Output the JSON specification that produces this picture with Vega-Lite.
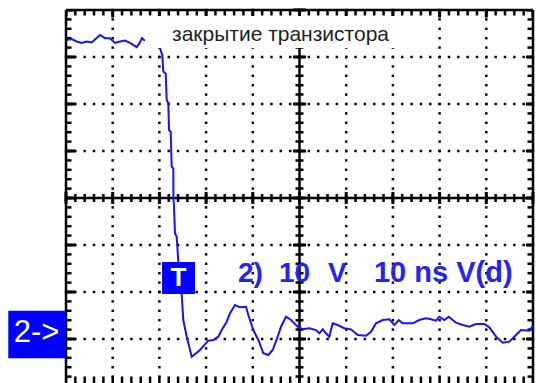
{
  "$schema": "https://vega.github.io/schema/vega-lite/v6.json",
  "width": 467,
  "height": 373,
  "padding": {"left": 66, "top": 10, "right": 3, "bottom": 0},
  "autosize": {"type": "none"},
  "background": "white",
  "config": {"view": {"stroke": null}},
  "data": {"values": [{}]},
  "datasets": {
    "hgrid": [{"v": [30, 20, 10, -10, -20, -30], "t": [0,2,4,6,8,10,12,14,16,18,20,22,24,26,28,30,32,34,36,38,40,42,44,46,48,50,52,54,56,58,60,62,64,66,68,70,72,74,76,78,80,82,84,86,88,90,92,94,96,98,100]}],
    "vgrid": [{"t": [10, 20, 30, 40, 60, 70, 80, 90], "v": [40,38,36,34,32,30,28,26,24,22,20,18,16,14,12,10,8,6,4,2,0,-2,-4,-6,-8,-10,-12,-14,-16,-18,-20,-22,-24,-26,-28,-30,-32,-34,-36,-38]}],
    "xs": [{"t": [0,2,4,6,8,10,12,14,16,18,20,22,24,26,28,30,32,34,36,38,40,42,44,46,48,50,52,54,56,58,60,62,64,66,68,70,72,74,76,78,80,82,84,86,88,90,92,94,96,98,100]}],
    "ys": [{"v": [40,38,36,34,32,30,28,26,24,22,20,18,16,14,12,10,8,6,4,2,0,-2,-4,-6,-8,-10,-12,-14,-16,-18,-20,-22,-24,-26,-28,-30,-32,-34,-36,-38]}],
    "xmaj": [{"t": [0,10,20,30,40,50,60,70,80,90,100]}],
    "ymaj": [{"v": [40,30,20,10,0,-10,-20,-30]}],
    "trace": [
      {"t": 0.15, "v": 33.6}, {"t": 1.22, "v": 33.8}, {"t": 2.29, "v": 33.3}, {"t": 3.36, "v": 33.0},
      {"t": 4.43, "v": 33.3}, {"t": 5.5, "v": 33.1}, {"t": 7.28, "v": 34.7}, {"t": 8.35, "v": 34.0},
      {"t": 9.42, "v": 34.0}, {"t": 10.49, "v": 33.0}, {"t": 11.56, "v": 33.3}, {"t": 12.63, "v": 33.5},
      {"t": 13.7, "v": 33.0}, {"t": 15.14, "v": 32.1}, {"t": 15.7, "v": 32.9}, {"t": 16.27, "v": 34.0},
      {"t": 16.7, "v": 33.6}, {"t": 17.99, "v": 33.4}, {"t": 19.7, "v": 33.2},
      {"t": 20.13, "v": 31.85}, {"t": 20.62, "v": 30.4}, {"t": 20.83, "v": 26.9}, {"t": 21.35, "v": 26.5},
      {"t": 21.56, "v": 20.85}, {"t": 21.91, "v": 20.15}, {"t": 22.06, "v": 14.47}, {"t": 22.42, "v": 14.1},
      {"t": 22.63, "v": 6.66}, {"t": 22.98, "v": 6.32}, {"t": 23.0, "v": 0}, {"t": 23.13, "v": -1.85},
      {"t": 23.34, "v": -7.51}, {"t": 23.7, "v": -8.23}, {"t": 24.05, "v": -13.55}, {"t": 24.78, "v": -20.64},
      {"t": 25.12, "v": -25.96}, {"t": 25.85, "v": -29.51}, {"t": 26.92, "v": -33.77}, {"t": 28.69, "v": -32.34},
      {"t": 30.47, "v": -30.36}, {"t": 31.54, "v": -30.21}, {"t": 32.61, "v": -29.51}, {"t": 33.34, "v": -28.09},
      {"t": 34.41, "v": -26.32}, {"t": 35.12, "v": -24.53}, {"t": 36.19, "v": -22.77}, {"t": 37.26, "v": -23.26},
      {"t": 38.54, "v": -23.13}, {"t": 39.04, "v": -24.89}, {"t": 40.11, "v": -28.09}, {"t": 41.18, "v": -30.21},
      {"t": 42.25, "v": -33.04}, {"t": 43.32, "v": -33.4}, {"t": 44.26, "v": -32.34}, {"t": 45.33, "v": -29.51},
      {"t": 46.04, "v": -27.38}, {"t": 47.11, "v": -25.26}, {"t": 48.18, "v": -25.96}, {"t": 49.61, "v": -27.38},
      {"t": 50.69, "v": -27.94}, {"t": 52.1, "v": -27.72}, {"t": 53.53, "v": -28.09}, {"t": 54.24, "v": -28.79},
      {"t": 54.97, "v": -27.94}, {"t": 55.67, "v": -28.79}, {"t": 56.38, "v": -29.51}, {"t": 57.11, "v": -26.66},
      {"t": 58.18, "v": -27.02}, {"t": 59.59, "v": -27.72}, {"t": 61.03, "v": -27.94}, {"t": 62.46, "v": -29.15},
      {"t": 64.24, "v": -29.3}, {"t": 65.31, "v": -28.45}, {"t": 66.38, "v": -26.66}, {"t": 67.82, "v": -25.96},
      {"t": 69.23, "v": -25.81}, {"t": 70.3, "v": -27.02}, {"t": 71.24, "v": -25.96}, {"t": 72.1, "v": -26.66},
      {"t": 74.24, "v": -26.66}, {"t": 75.65, "v": -25.96}, {"t": 77.09, "v": -25.6}, {"t": 78.16, "v": -25.81},
      {"t": 79.23, "v": -26.11}, {"t": 79.94, "v": -25.26}, {"t": 81.01, "v": -25.96}, {"t": 81.95, "v": -25.26},
      {"t": 83.51, "v": -26.53}, {"t": 84.95, "v": -27.02}, {"t": 86.36, "v": -27.38}, {"t": 87.79, "v": -26.81},
      {"t": 89.57, "v": -26.81}, {"t": 90.64, "v": -27.51}, {"t": 92.08, "v": -29.51}, {"t": 93.51, "v": -30.79},
      {"t": 94.93, "v": -30.57}, {"t": 96.36, "v": -29.15}, {"t": 97.43, "v": -28.09}, {"t": 99.21, "v": -28.23},
      {"t": 100, "v": -27.2}
    ]
  },
  "layer": [
    {
      "data": {"name": "hgrid"},
      "transform": [{"flatten": ["v"]}, {"flatten": ["t"]}],
      "mark": {"type": "square", "size": 6, "color": "#000000", "opacity": 1},
      "encoding": {
        "x": {"field": "t", "type": "quantitative", "scale": {"domain": [0, 100], "nice": false, "zero": false}, "axis": null},
        "y": {"field": "v", "type": "quantitative", "scale": {"domain": [-39.36, 40], "nice": false, "zero": false}, "axis": null}
      }
    },
    {
      "data": {"name": "vgrid"},
      "transform": [{"flatten": ["t"]}, {"flatten": ["v"]}],
      "mark": {"type": "square", "size": 6, "color": "#000000", "opacity": 1},
      "encoding": {
        "x": {"field": "t", "type": "quantitative", "scale": {"domain": [0, 100], "nice": false, "zero": false}, "axis": null},
        "y": {"field": "v", "type": "quantitative", "scale": {"domain": [-39.36, 40], "nice": false, "zero": false}, "axis": null}
      }
    },
    {
      "mark": {"type": "rule", "strokeWidth": 2.5, "color": "black"},
      "encoding": {
        "y": {"datum": 40, "type": "quantitative", "scale": {"domain": [-39.36, 40], "nice": false, "zero": false}, "axis": null},
        "x": {"datum": 0, "type": "quantitative", "scale": {"domain": [0, 100], "nice": false, "zero": false}, "axis": null},
        "x2": {"datum": 100}
      }
    },
    {
      "mark": {"type": "rule", "strokeWidth": 2.5, "color": "black"},
      "encoding": {
        "x": {"datum": 0, "type": "quantitative", "scale": {"domain": [0, 100], "nice": false, "zero": false}, "axis": null},
        "y": {"datum": 40, "type": "quantitative", "scale": {"domain": [-39.36, 40], "nice": false, "zero": false}, "axis": null},
        "y2": {"datum": -39.36}
      }
    },
    {
      "mark": {"type": "rule", "strokeWidth": 2.5, "color": "black"},
      "encoding": {
        "x": {"datum": 100, "type": "quantitative", "scale": {"domain": [0, 100], "nice": false, "zero": false}, "axis": null},
        "y": {"datum": 40, "type": "quantitative", "scale": {"domain": [-39.36, 40], "nice": false, "zero": false}, "axis": null},
        "y2": {"datum": -39.36}
      }
    },
    {
      "mark": {"type": "rule", "strokeWidth": 2.5, "color": "black"},
      "encoding": {
        "y": {"datum": 0, "type": "quantitative", "scale": {"domain": [-39.36, 40], "nice": false, "zero": false}, "axis": null},
        "x": {"datum": 0, "type": "quantitative", "scale": {"domain": [0, 100], "nice": false, "zero": false}, "axis": null},
        "x2": {"datum": 100}
      }
    },
    {
      "mark": {"type": "rule", "strokeWidth": 2.5, "color": "black"},
      "encoding": {
        "x": {"datum": 50, "type": "quantitative", "scale": {"domain": [0, 100], "nice": false, "zero": false}, "axis": null},
        "y": {"datum": 40, "type": "quantitative", "scale": {"domain": [-39.36, 40], "nice": false, "zero": false}, "axis": null},
        "y2": {"datum": -39.36}
      }
    },
    {
      "mark": {"type": "rule", "strokeWidth": 8, "strokeDash": [2.5, 6.84], "color": "black"},
      "encoding": {
        "y": {"datum": 0, "type": "quantitative", "scale": {"domain": [-39.36, 40], "nice": false, "zero": false}, "axis": null},
        "x": {"datum": -0.27, "type": "quantitative", "scale": {"domain": [0, 100], "nice": false, "zero": false}, "axis": null},
        "x2": {"datum": 100}
      }
    },
    {
      "mark": {"type": "rule", "strokeWidth": 8, "strokeDash": [2.5, 6.9], "color": "black"},
      "encoding": {
        "x": {"datum": 50, "type": "quantitative", "scale": {"domain": [0, 100], "nice": false, "zero": false}, "axis": null},
        "y": {"datum": 40.27, "type": "quantitative", "scale": {"domain": [-39.36, 40], "nice": false, "zero": false}, "axis": null},
        "y2": {"datum": -39.36}
      }
    },
    {
      "data": {"name": "xs"},
      "transform": [{"flatten": ["t"]}],
      "mark": {"type": "tick", "orient": "vertical", "size": 11, "thickness": 2.5, "clip": true, "color": "black", "opacity": 1},
      "encoding": {
        "x": {"field": "t", "type": "quantitative", "scale": {"domain": [0, 100], "nice": false, "zero": false}, "axis": null},
        "y": {"datum": 40, "type": "quantitative", "scale": {"domain": [-39.36, 40], "nice": false, "zero": false}, "axis": null}
      }
    },
    {
      "data": {"name": "xs"},
      "transform": [{"flatten": ["t"]}],
      "mark": {"type": "tick", "orient": "vertical", "size": 19, "thickness": 2.5, "clip": true, "color": "black", "opacity": 1},
      "encoding": {
        "x": {"field": "t", "type": "quantitative", "scale": {"domain": [0, 100], "nice": false, "zero": false}, "axis": null},
        "y": {"datum": -40, "type": "quantitative", "scale": {"domain": [-39.36, 40], "nice": false, "zero": false}, "axis": null}
      }
    },
    {
      "data": {"name": "ys"},
      "transform": [{"flatten": ["v"]}],
      "mark": {"type": "tick", "orient": "horizontal", "size": 11, "thickness": 2.5, "clip": true, "color": "black", "opacity": 1},
      "encoding": {
        "y": {"field": "v", "type": "quantitative", "scale": {"domain": [-39.36, 40], "nice": false, "zero": false}, "axis": null},
        "x": {"datum": 0, "type": "quantitative", "scale": {"domain": [0, 100], "nice": false, "zero": false}, "axis": null}
      }
    },
    {
      "data": {"name": "ys"},
      "transform": [{"flatten": ["v"]}],
      "mark": {"type": "tick", "orient": "horizontal", "size": 11, "thickness": 2.5, "clip": true, "color": "black", "opacity": 1},
      "encoding": {
        "y": {"field": "v", "type": "quantitative", "scale": {"domain": [-39.36, 40], "nice": false, "zero": false}, "axis": null},
        "x": {"datum": 100, "type": "quantitative", "scale": {"domain": [0, 100], "nice": false, "zero": false}, "axis": null}
      }
    },
    {
      "data": {"name": "xmaj"},
      "transform": [{"flatten": ["t"]}],
      "mark": {"type": "tick", "orient": "vertical", "size": 15, "thickness": 3, "clip": true, "color": "black", "opacity": 1},
      "encoding": {
        "x": {"field": "t", "type": "quantitative", "scale": {"domain": [0, 100], "nice": false, "zero": false}, "axis": null},
        "y": {"datum": 40, "type": "quantitative", "scale": {"domain": [-39.36, 40], "nice": false, "zero": false}, "axis": null}
      }
    },
    {
      "data": {"name": "xmaj"},
      "transform": [{"flatten": ["t"]}],
      "mark": {"type": "tick", "orient": "vertical", "size": 12, "thickness": 3, "color": "black", "opacity": 1},
      "encoding": {
        "x": {"field": "t", "type": "quantitative", "scale": {"domain": [0, 100], "nice": false, "zero": false}, "axis": null},
        "y": {"datum": 0, "type": "quantitative", "scale": {"domain": [-39.36, 40], "nice": false, "zero": false}, "axis": null}
      }
    },
    {
      "data": {"name": "ymaj"},
      "transform": [{"flatten": ["v"]}],
      "mark": {"type": "tick", "orient": "horizontal", "size": 19, "thickness": 3, "clip": true, "color": "black", "opacity": 1},
      "encoding": {
        "y": {"field": "v", "type": "quantitative", "scale": {"domain": [-39.36, 40], "nice": false, "zero": false}, "axis": null},
        "x": {"datum": 0, "type": "quantitative", "scale": {"domain": [0, 100], "nice": false, "zero": false}, "axis": null}
      }
    },
    {
      "data": {"name": "ymaj"},
      "transform": [{"flatten": ["v"]}],
      "mark": {"type": "tick", "orient": "horizontal", "size": 14, "thickness": 3, "clip": true, "color": "black", "opacity": 1},
      "encoding": {
        "y": {"field": "v", "type": "quantitative", "scale": {"domain": [-39.36, 40], "nice": false, "zero": false}, "axis": null},
        "x": {"datum": 100, "type": "quantitative", "scale": {"domain": [0, 100], "nice": false, "zero": false}, "axis": null}
      }
    },
    {
      "data": {"name": "ymaj"},
      "transform": [{"flatten": ["v"]}],
      "mark": {"type": "tick", "orient": "horizontal", "size": 13, "thickness": 3, "color": "black", "opacity": 1},
      "encoding": {
        "y": {"field": "v", "type": "quantitative", "scale": {"domain": [-39.36, 40], "nice": false, "zero": false}, "axis": null},
        "x": {"datum": 50, "type": "quantitative", "scale": {"domain": [0, 100], "nice": false, "zero": false}, "axis": null}
      }
    },
    {
      "data": {"name": "trace"},
      "mark": {"type": "line", "color": "#1414ff", "strokeWidth": 2},
      "encoding": {
        "x": {"field": "t", "type": "quantitative", "scale": {"domain": [0, 100], "nice": false, "zero": false}, "axis": null},
        "y": {"field": "v", "type": "quantitative", "scale": {"domain": [-39.36, 40], "nice": false, "zero": false}, "axis": null}
      }
    },
    {
      "mark": {"type": "rect", "color": "white"},
      "encoding": {
        "x": {"datum": 16.9, "type": "quantitative", "scale": {"domain": [0, 100], "nice": false, "zero": false}, "axis": null},
        "x2": {"datum": 71.5},
        "y": {"datum": 38.7, "type": "quantitative", "scale": {"domain": [-39.36, 40], "nice": false, "zero": false}, "axis": null},
        "y2": {"datum": 31.9}
      }
    },
    {
      "mark": {"type": "text", "text": "закрытие транзистора", "font": "Liberation Sans", "fontSize": 21, "color": "#1e1e1e", "align": "left", "baseline": "alphabetic"},
      "encoding": {
        "x": {"datum": 22.7, "type": "quantitative", "scale": {"domain": [0, 100], "nice": false, "zero": false}, "axis": null},
        "y": {"datum": 33.4, "type": "quantitative", "scale": {"domain": [-39.36, 40], "nice": false, "zero": false}, "axis": null}
      }
    },
    {
      "mark": {"type": "rect", "color": "#0000ff"},
      "encoding": {
        "x": {"datum": 20.56, "type": "quantitative", "scale": {"domain": [0, 100], "nice": false, "zero": false}, "axis": null},
        "x2": {"datum": 27.62},
        "y": {"datum": -13.6, "type": "quantitative", "scale": {"domain": [-39.36, 40], "nice": false, "zero": false}, "axis": null},
        "y2": {"datum": -20.4}
      }
    },
    {
      "mark": {"type": "text", "text": "T", "font": "Liberation Sans", "fontSize": 26, "fontWeight": "bold", "color": "white", "align": "center", "baseline": "alphabetic"},
      "encoding": {
        "x": {"datum": 24.09, "type": "quantitative", "scale": {"domain": [0, 100], "nice": false, "zero": false}, "axis": null},
        "y": {"datum": -18.72, "type": "quantitative", "scale": {"domain": [-39.36, 40], "nice": false, "zero": false}, "axis": null}
      }
    },
    {
      "mark": {"type": "text", "text": "2)", "font": "Liberation Sans", "fontSize": 28, "fontWeight": "bold", "color": "#2323f5", "align": "left", "baseline": "alphabetic"},
      "encoding": {
        "x": {"datum": 36.83, "type": "quantitative", "scale": {"domain": [0, 100], "nice": false, "zero": false}, "axis": null},
        "y": {"datum": -17.87, "type": "quantitative", "scale": {"domain": [-39.36, 40], "nice": false, "zero": false}, "axis": null}
      }
    },
    {
      "mark": {"type": "text", "text": "10", "font": "Liberation Sans", "fontSize": 28, "fontWeight": "bold", "color": "#2323f5", "align": "left", "baseline": "alphabetic"},
      "encoding": {
        "x": {"datum": 45.61, "type": "quantitative", "scale": {"domain": [0, 100], "nice": false, "zero": false}, "axis": null},
        "y": {"datum": -17.87, "type": "quantitative", "scale": {"domain": [-39.36, 40], "nice": false, "zero": false}, "axis": null}
      }
    },
    {
      "mark": {"type": "text", "text": "V", "font": "Liberation Sans", "fontSize": 28, "fontWeight": "bold", "color": "#2323f5", "align": "left", "baseline": "alphabetic"},
      "encoding": {
        "x": {"datum": 56.1, "type": "quantitative", "scale": {"domain": [0, 100], "nice": false, "zero": false}, "axis": null},
        "y": {"datum": -17.87, "type": "quantitative", "scale": {"domain": [-39.36, 40], "nice": false, "zero": false}, "axis": null}
      }
    },
    {
      "mark": {"type": "text", "text": "10 ns V(d)", "font": "Liberation Sans", "fontSize": 29, "fontWeight": "bold", "color": "#2323f5", "align": "left", "baseline": "alphabetic"},
      "encoding": {
        "x": {"datum": 65.95, "type": "quantitative", "scale": {"domain": [0, 100], "nice": false, "zero": false}, "axis": null},
        "y": {"datum": -17.87, "type": "quantitative", "scale": {"domain": [-39.36, 40], "nice": false, "zero": false}, "axis": null}
      }
    },
    {
      "mark": {"type": "rect", "color": "#0000ff"},
      "encoding": {
        "x": {"datum": -12.36, "type": "quantitative", "scale": {"domain": [0, 100], "nice": false, "zero": false}, "axis": null},
        "x2": {"datum": -0.21},
        "y": {"datum": -23.98, "type": "quantitative", "scale": {"domain": [-39.36, 40], "nice": false, "zero": false}, "axis": null},
        "y2": {"datum": -34.1}
      }
    },
    {
      "mark": {"type": "text", "text": "2->", "font": "Liberation Sans", "fontSize": 31, "color": "white", "align": "center", "baseline": "alphabetic"},
      "encoding": {
        "x": {"datum": -6.3, "type": "quantitative", "scale": {"domain": [0, 100], "nice": false, "zero": false}, "axis": null},
        "y": {"datum": -30.64, "type": "quantitative", "scale": {"domain": [-39.36, 40], "nice": false, "zero": false}, "axis": null}
      }
    }
  ]
}
